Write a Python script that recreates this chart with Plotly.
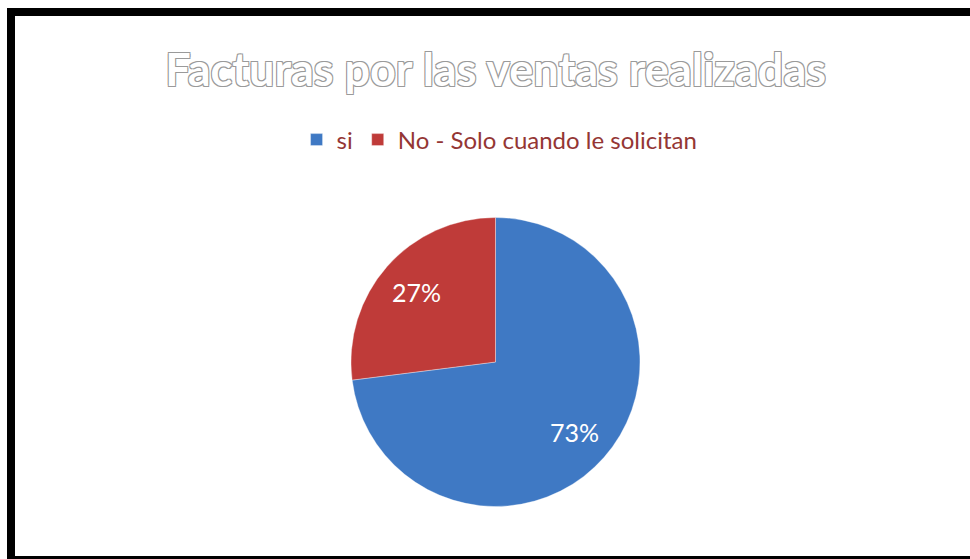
import math
import plotly.graph_objects as go

# Survey answers and their shares (percent)
labels = ["si", "No - Solo cuando le solicitan"]
values = [73, 27]
colors = ["#3F79C4", "#BF3B39"]

title_text = "Facturas por las ventas realizadas"

W, H = 970, 559

# Pie placement in pixels (centre and radius)
CX, CY, R = 495.5, 362.0, 144.5
LABEL_R = 0.73  # fraction of the radius where the percent labels sit


def px_x(p):
    return p / W


def px_y(p):
    return 1 - p / H


fig = go.Figure(
    go.Pie(
        labels=labels,
        values=values,
        sort=False,
        direction="clockwise",
        rotation=0,
        marker=dict(colors=colors, line=dict(color="rgba(255,255,255,0.35)", width=1)),
        textinfo="none",
        hoverinfo="label+percent",
        domain=dict(x=[px_x(CX - R), px_x(CX + R)], y=[px_y(CY + R), px_y(CY - R)]),
    )
)

# Percent labels at the middle angle of each slice (clockwise from 12 o'clock)
total = sum(values)
annotations = []
start = 0.0
for v in values:
    mid = (start + v / 2) / total * 2 * math.pi
    start += v
    x = CX + LABEL_R * R * math.sin(mid)
    y = CY - LABEL_R * R * math.cos(mid)
    annotations.append(
        dict(
            x=px_x(x), y=px_y(y), xref="paper", yref="paper",
            text=f"{round(v / total * 100)}%",
            showarrow=False,
            font=dict(family="Lato", size=25, color="white"),
            xanchor="center", yanchor="middle",
        )
    )

# Black frame around the chart area
frame = [
    (7, 8, 15, 559),
    (7, 8, 975, 16),
    (7, 556, 975, 562),
]
shapes = [
    dict(
        type="rect", xref="paper", yref="paper",
        x0=px_x(a), x1=px_x(c), y0=px_y(b), y1=px_y(d),
        fillcolor="black", line=dict(width=0), layer="above",
    )
    for a, b, c, d in frame
]

fig.update_layout(
    width=W,
    height=H,
    margin=dict(l=0, r=0, t=0, b=0),
    paper_bgcolor="white",
    plot_bgcolor="white",
    shapes=shapes,
    annotations=annotations,
    title=dict(
        text=title_text,
        x=0.511,
        xanchor="center",
        y=px_y(70),
        yanchor="middle",
        font=dict(
            family="Lato",
            size=45,
            weight="bold",
            color="white",
            shadow="1px 1px 0 #9a9a9a, -1px -1px 0 #9a9a9a, 1px -1px 0 #9a9a9a, -1px 1px 0 #9a9a9a",
        ),
    ),
    legend=dict(
        orientation="h",
        x=0.515,
        xanchor="center",
        y=px_y(140),
        yanchor="middle",
        font=dict(family="Lato", size=24, color="#943634"),
        itemwidth=30,
    ),
    showlegend=True,
)

fig.write_html("out.html")
